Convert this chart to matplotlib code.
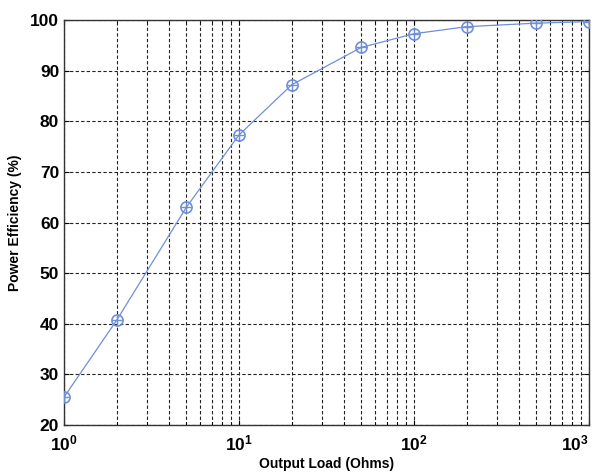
import numpy as np
import matplotlib
matplotlib.use("Agg")
import matplotlib.pyplot as plt
import matplotlib.ticker as ticker

# output load (ohms) vs power efficiency (%)
load_ohms = [1, 2, 5, 10, 20, 50, 100, 200, 500, 1000]
efficiency = [25.5, 40.7, 63.0, 77.3, 87.2, 94.6, 97.3, 98.7, 99.4, 99.7]

x_ticks = [1, 10, 100, 1000]
x_tick_labels = [r'$\mathbf{10^{0}}$', r'$\mathbf{10^{1}}$', r'$\mathbf{10^{2}}$', r'$\mathbf{10^{3}}$']
y_ticks = [20, 30, 40, 50, 60, 70, 80, 90, 100]

plt.rcParams['font.family'] = ['Liberation Sans', 'DejaVu Sans']
plt.rcParams['mathtext.fontset'] = 'custom'
plt.rcParams['mathtext.rm'] = 'Liberation Sans'
plt.rcParams['mathtext.bf'] = 'Liberation Sans:bold'

fig = plt.figure(figsize=(5.95, 4.73), dpi=100)
ax = fig.add_axes([0.1076, 0.1015, 0.882, 0.856])

line_col = '#6f8fd8'
ax.semilogx(load_ohms, efficiency, '-', color=line_col, linewidth=0.9, zorder=3)
ax.semilogx(load_ohms, efficiency, 'o', color=line_col, markersize=8,
            markerfacecolor='none', markeredgewidth=1.2, zorder=4)
ax.semilogx(load_ohms, efficiency, '+', color=line_col, markersize=7,
            markeredgewidth=1.0, zorder=4)

ax.set_xlim(1, 1000)
ax.set_ylim(20, 100)
ax.set_yticks(y_ticks)
ax.set_xticks(x_ticks, labels=x_tick_labels)
ax.xaxis.set_minor_locator(ticker.LogLocator(base=10, subs=np.arange(2, 10)))
ax.xaxis.set_minor_formatter(ticker.NullFormatter())

ax.grid(True, which='major', axis='both', linestyle=(0, (3, 2)), color='#222222', linewidth=0.8)
ax.grid(True, which='minor', axis='x', linestyle=(0, (3, 2)), color='#222222', linewidth=0.8)

ax.tick_params(which='both', direction='in', top=True, right=True, labelsize=12.5)
ax.tick_params(axis='x', pad=6)
for lab in ax.get_yticklabels():
    lab.set_fontweight('bold')
ax.get_xticklabels()[-1].set_horizontalalignment('right')
for s in ax.spines.values():
    s.set_linewidth(1.0)
    s.set_color('#333333')

ax.set_xlabel('Output Load (Ohms)', fontsize=10, labelpad=3, fontweight='bold')
ax.set_ylabel('Power Efficiency (%)', fontsize=10, labelpad=6, fontweight='bold')

fig.savefig('out.png', dpi=100)
